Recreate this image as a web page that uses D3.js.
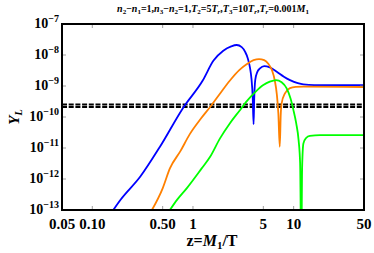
<!DOCTYPE html>
<html>
<head>
<meta charset="utf-8">
<script src="https://cdn.jsdelivr.net/npm/d3@7"></script>
<style>
  body { margin: 0; background: #fff; }
  svg { display: block; font-family: "Liberation Serif", "DejaVu Serif", serif; }
</style>
</head>
<body>
<svg id="chart" width="374" height="253"></svg>
<script>
// ==================== DATA ====================
const xTicks = [0.05, 0.1, 0.5, 1, 5, 10, 50];
const xTickLabels = ['0.05', '0.10', '0.50', '1', '5', '10', '50'];
const yTicks = [1e-7, 1e-8, 1e-9, 1e-10, 1e-11, 1e-12, 1e-13];
const yTickExps = ['−7', '−8', '−9', '−10', '−11', '−12', '−13'];

const observedBand = [2.1e-10, 2.55e-10];

const zBlue = [0.15, 0.19, 0.30, 0.47, 0.80, 1.25, 1.6, 2.0, 2.4, 2.72, 3.05, 3.3, 3.5, 3.68, 3.82, 3.92, 4.0, 4.06, 4.16, 4.35, 4.63, 5.1, 5.8, 6.8, 8.0, 9.2, 11.0, 12.5, 16, 50];
const yBlue = [7e-14, 2.1e-13, 1.2e-12, 1.1e-11, 2.0e-10, 1.5e-9, 6.6e-9, 1.38e-8, 1.9e-8, 2.1e-8, 1.8e-8, 1.26e-8, 7.9e-9, 4.0e-9, 1.6e-9, 4.5e-10, 5.8e-11, 4.0e-10, 1.6e-9, 2.8e-9, 3.7e-9, 4.4e-9, 4.0e-9, 2.9e-9, 2.0e-9, 1.55e-9, 1.23e-9, 1.12e-9, 1.07e-9, 1.07e-9];

const zOrange = [0.38, 0.5, 0.59, 0.75, 0.93, 1.2, 1.48, 1.9, 2.33, 2.9, 3.41, 4.0, 4.53, 5.1, 5.6, 6.1, 6.5, 6.8, 7.05, 7.28, 7.45, 7.6, 8.2, 9.2, 10.5, 12.5, 50];
const yOrange = [8.5e-14, 5.0e-13, 2.2e-12, 7.9e-12, 2.8e-11, 8.9e-11, 2.1e-10, 6.3e-10, 1.5e-9, 3.3e-9, 5.0e-9, 6.8e-9, 7.4e-9, 6.8e-9, 5.2e-9, 3.2e-9, 1.5e-9, 5.6e-10, 1.3e-10, 1.1e-11, 1.26e-10, 2.75e-10, 5.8e-10, 8.5e-10, 9.3e-10, 9.5e-10, 9.3e-10];

const zGreen = [0.57, 0.7, 0.866, 1.22, 1.48, 1.85, 2.33, 2.9, 3.41, 4.2, 5.0, 5.8, 6.68, 7.6, 8.5, 9.3, 9.94, 10.6, 11.2, 11.6, 11.9, 12.15, 12.5, 13.3, 14.5, 18.3, 50];
const yGreen = [8.5e-14, 2.2e-13, 5.0e-13, 2.2e-12, 5.2e-12, 2.0e-11, 6.3e-11, 1.6e-10, 3.2e-10, 6.6e-10, 1.07e-9, 1.38e-9, 1.55e-9, 1.32e-9, 8.5e-10, 4.0e-10, 1.7e-10, 6.3e-11, 1.8e-11, 3.2e-12, 3e-15, 2.5e-12, 1.4e-11, 2.1e-11, 2.45e-11, 2.6e-11, 2.6e-11];

const seriesList = [
  { z: zBlue, y: yBlue, color: '#0000ff' },
  { z: zOrange, y: yOrange, color: '#ff8000' },
  { z: zGreen, y: yGreen, color: '#00ff00' },
];

// ==================== CHART ====================
const svg = d3.select('#chart');
const plotLeft = 62, plotRight = 364, plotTop = 24, plotBottom = 210;

const x = d3.scaleLog().domain([0.05, 50]).range([plotLeft, plotRight]);
const y = d3.scaleLog().domain([1e-13, 1e-7]).range([plotBottom, plotTop]);

svg.append('defs').append('clipPath').attr('id', 'plot-clip')
  .append('rect')
  .attr('x', plotLeft).attr('y', plotTop)
  .attr('width', plotRight - plotLeft).attr('height', plotBottom - plotTop);

// title
const title = svg.append('text')
  .attr('x', 213).attr('y', 12)
  .attr('text-anchor', 'middle')
  .attr('font-size', '10px')
  .attr('font-weight', 'bold');
const titleParts = [
  ['n', 'i'], ['2', 's'], ['−', ''], ['n', 'i'], ['1', 's'], ['=1,', ''],
  ['n', 'i'], ['3', 's'], ['−', ''], ['n', 'i'], ['2', 's'], ['=1,', ''],
  ['T', 'i'], ['2', 's'], ['=5', ''], ['T', 'i'], ['r', 'is'], [',', ''],
  ['T', 'i'], ['3', 's'], ['=10', ''], ['T', 'i'], ['r', 'is'], [',', ''],
  ['T', 'i'], ['r', 'is'], ['=0.001', ''], ['M', 'i'], ['1', 's'],
];
let prevSub = false;
titleParts.forEach(([t, f]) => {
  const isSub = f.includes('s');
  const ts = title.append('tspan').text(t);
  if (f.includes('i')) ts.attr('font-style', 'italic');
  if (isSub) ts.attr('font-size', '7px');
  if (isSub && !prevSub) ts.attr('dy', 2);
  if (!isSub && prevSub) ts.attr('dy', -2);
  prevSub = isSub;
});

// dashed observed band
const plot = svg.append('g').attr('clip-path', 'url(#plot-clip)');
observedBand.forEach((v) => {
  plot.append('line')
    .attr('x1', plotLeft).attr('x2', plotRight)
    .attr('y1', y(v)).attr('y2', y(v))
    .attr('stroke', '#000')
    .attr('stroke-width', 2)
    .attr('stroke-dasharray', '5,1.7');
});

// curves
const line = d3.line()
  .x((d) => x(d[0]))
  .y((d) => y(d[1]))
  .curve(d3.curveMonotoneX);

seriesList.forEach((s) => {
  const pts = s.z.map((z, i) => [z, s.y[i]]);
  plot.append('path')
    .attr('d', line(pts))
    .attr('fill', 'none')
    .attr('stroke', s.color)
    .attr('stroke-width', 1.8)
    .attr('stroke-linejoin', 'round');
});

// ticks (inward, all four sides)
const tickG = svg.append('g').attr('stroke', '#888').attr('stroke-width', 0.8);
xTicks.forEach((t) => {
  tickG.append('line').attr('x1', x(t)).attr('x2', x(t)).attr('y1', plotBottom).attr('y2', plotBottom - 4);
  tickG.append('line').attr('x1', x(t)).attr('x2', x(t)).attr('y1', plotTop).attr('y2', plotTop + 4);
});
yTicks.forEach((t) => {
  tickG.append('line').attr('x1', plotLeft).attr('x2', plotLeft + 4).attr('y1', y(t)).attr('y2', y(t));
  tickG.append('line').attr('x1', plotRight).attr('x2', plotRight - 4).attr('y1', y(t)).attr('y2', y(t));
});

// frame
svg.append('rect')
  .attr('x', plotLeft).attr('y', plotTop)
  .attr('width', plotRight - plotLeft).attr('height', plotBottom - plotTop)
  .attr('fill', 'none')
  .attr('stroke', '#000')
  .attr('stroke-width', 2);

// x tick labels
svg.append('g')
  .selectAll('text')
  .data(xTicks)
  .join('text')
  .attr('x', (d) => x(d))
  .attr('y', 229)
  .attr('text-anchor', 'middle')
  .attr('font-size', '15px')
  .attr('font-weight', 'bold')
  .text((d, i) => xTickLabels[i]);

// y tick labels
yTicks.forEach((t, i) => {
  const txt = svg.append('text')
    .attr('x', plotLeft - 3)
    .attr('y', y(t) + 4)
    .attr('text-anchor', 'end')
    .attr('font-size', '14px')
    .attr('font-weight', 'bold');
  txt.append('tspan').text('10');
  txt.append('tspan').attr('font-size', '10px').attr('dy', -6).text(yTickExps[i]);
});

// x axis label
const xl = svg.append('text')
  .attr('x', 212).attr('y', 246)
  .attr('text-anchor', 'middle')
  .attr('font-size', '16px')
  .attr('font-weight', 'bold');
xl.append('tspan').text('z=');
xl.append('tspan').attr('font-style', 'italic').text('M');
xl.append('tspan').attr('font-size', '11px').attr('dy', 3).text('1');
xl.append('tspan').attr('dy', -3).text('/T');

// y axis label
const yl = svg.append('text')
  .attr('transform', `translate(19, ${(plotTop + plotBottom) / 2}) rotate(-90)`)
  .attr('text-anchor', 'middle')
  .attr('font-size', '15px')
  .attr('font-weight', 'bold')
  .attr('font-style', 'italic');
yl.append('tspan').text('Y');
yl.append('tspan').attr('font-size', '10px').attr('dy', 3).text('L');
</script>
</body>
</html>
